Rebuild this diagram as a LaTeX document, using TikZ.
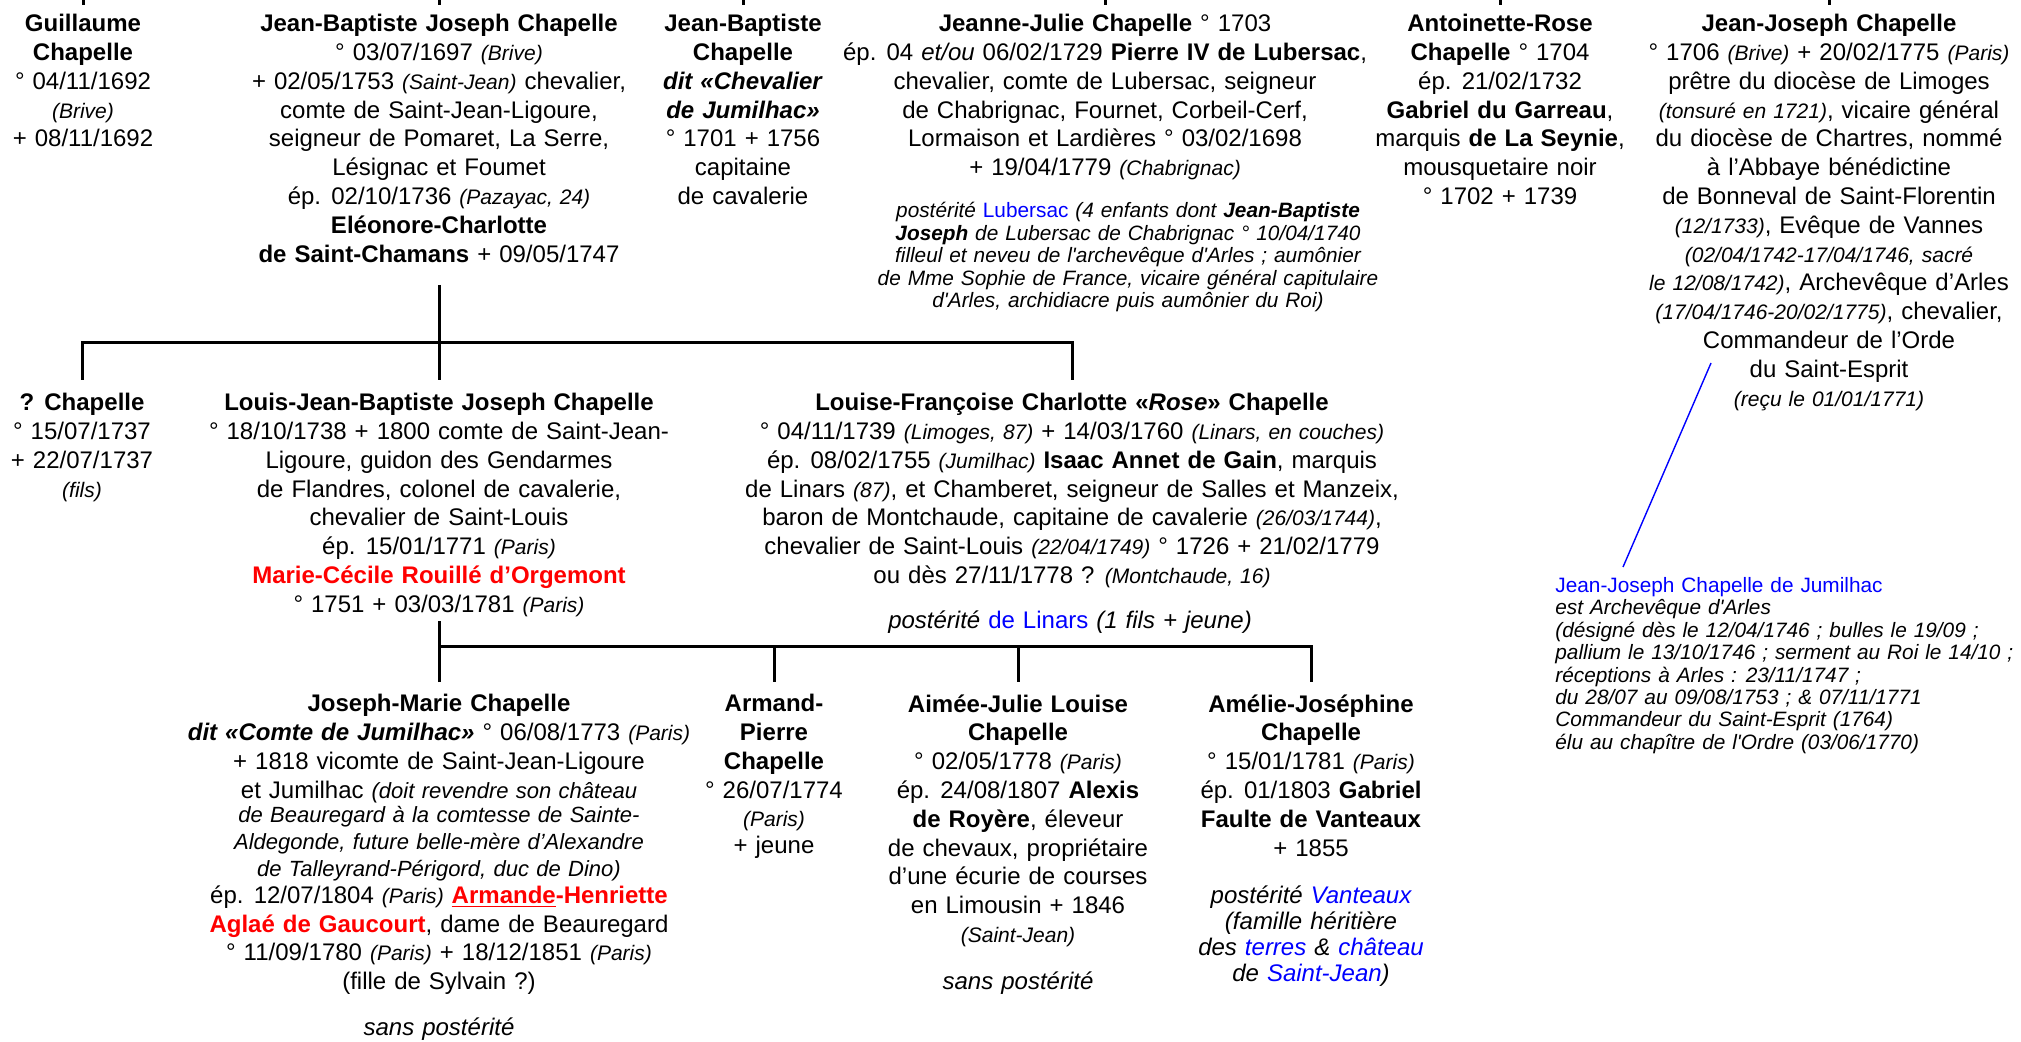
\documentclass[tikz,border=0pt]{standalone}
\usepackage{fontspec}
\setmainfont{Liberation Sans}[WordSpace=1.2]
\definecolor{nomrouge}{RGB}{255,0,0}
\definecolor{lienbleu}{RGB}{0,0,255}
\newcommand{\lieu}[1]{{\fontsize{10.5}{12}\selectfont\itshape #1}}
\newcommand{\glose}[1]{{\fontsize{11}{13}\selectfont\itshape #1}}
\newcommand{\conj}[1]{{\color{nomrouge}\bfseries #1}}
\newcommand{\lien}[1]{{\color{lienbleu}#1}}
\newcommand{\aps}{\textquotesingle}
\begin{document}
\begin{tikzpicture}[
	x=0.5pt, y=-0.5pt,
	pers/.style={anchor=north, align=center, inner sep=0pt, font=\fontsize{12}{14.4}\selectfont},
	post/.style={anchor=north, align=center, inner sep=0pt, font=\fontsize{10.4}{11.25}\selectfont\itshape},
	renv/.style={anchor=north west, align=left, inner sep=0pt, font=\fontsize{10.4}{11.2}\selectfont\itshape},
	trait/.style={line width=1.5pt},
	renvoi/.style={lienbleu, line width=0.7pt},
	]
\useasboundingbox (0,0) rectangle (2021,1042);
\coordinate (ciel) at (0,0);
\node [pers] (gc) at (83,14) {\textbf{Guillaume}\\\textbf{Chapelle}\\° 04/11/1692\\\lieu{(Brive)}\\+ 08/11/1692};
\node [pers] (jbj) at (439,14) {\textbf{Jean-Baptiste Joseph Chapelle}\\
	° 03/07/1697 \lieu{(Brive)}\\
	+ 02/05/1753 \lieu{(Saint-Jean)} chevalier,\\
	comte de Saint-Jean-Ligoure,\\
	seigneur de Pomaret, La Serre,\\
	Lésignac et Foumet\\
	ép. 02/10/1736 \lieu{(Pazayac, 24)}\\
	\textbf{Eléonore-Charlotte}\\
	\textbf{de Saint-Chamans} + 09/05/1747};
\node [pers] (jbc) at (743,14) {\textbf{Jean-Baptiste}\\\textbf{Chapelle}\\\textbf{\textit{dit «Chevalier}}\\\textbf{\textit{de Jumilhac»}}\\° 1701 + 1756\\capitaine\\de cavalerie};
\node [pers] (jjc) at (1105,14) {\textbf{Jeanne-Julie Chapelle} ° 1703\\
	ép. 04 \textit{et/ou} 06/02/1729 \textbf{Pierre IV de Lubersac},\\
	chevalier, comte de Lubersac, seigneur\\
	de Chabrignac, Fournet, Corbeil-Cerf,\\
	Lormaison et Lardières ° 03/02/1698\\
	+ 19/04/1779 \lieu{(Chabrignac)}};
\node [post] (lub) at (1128,202) {postérité \lien{\upshape Lubersac} (4 enfants dont \textbf{Jean-Baptiste}\\
	\textbf{Joseph} de Lubersac de Chabrignac ° 10/04/1740\\
	filleul et neveu de l\aps archevêque d\aps Arles ; aumônier\\
	de Mme Sophie de France, vicaire général capitulaire\\
	d\aps Arles, archidiacre puis aumônier du Roi)};
\node [pers] (arc) at (1500,14) {\textbf{Antoinette-Rose}\\\textbf{Chapelle} ° 1704\\ép. 21/02/1732\\\textbf{Gabriel du Garreau},\\marquis \textbf{de La Seynie},\\mousquetaire noir\\° 1702 + 1739};
\node [pers] (jjo) at (1829,14) {\textbf{Jean-Joseph Chapelle}\\
	° 1706 \lieu{(Brive)} + 20/02/1775 \lieu{(Paris)}\\
	prêtre du diocèse de Limoges\\
	\lieu{(tonsuré en 1721)}, vicaire général\\
	du diocèse de Chartres, nommé\\
	à l'Abbaye bénédictine\\
	de Bonneval de Saint-Florentin\\
	\lieu{(12/1733)}, Evêque de Vannes\\
	\lieu{(02/04/1742-17/04/1746, sacré}\\
	\lieu{le 12/08/1742)}, Archevêque d'Arles\\
	\lieu{(17/04/1746-20/02/1775)}, chevalier,\\
	Commandeur de l'Orde\\
	du Saint-Esprit\\
	\lieu{(reçu le 01/01/1771)}};
\node [renv] (note) at (1555,577) {{\upshape\lien{Jean-Joseph Chapelle de Jumilhac}}\\
	est Archevêque d\aps Arles\\
	(désigné dès le 12/04/1746 ; bulles le 19/09 ;\\
	pallium le 13/10/1746 ; serment au Roi le 14/10 ;\\
	réceptions à Arles : 23/11/1747 ;\\
	du 28/07 au 09/08/1753 ; \& 07/11/1771\\
	Commandeur du Saint-Esprit (1764)\\
	élu au chapître de l\aps Ordre (03/06/1770)};
\node [pers] (qc) at (82,393) {\textbf{? Chapelle}\\° 15/07/1737\\+ 22/07/1737\\\lieu{(fils)}};
\node [pers] (ljb) at (439,393) {\textbf{Louis-Jean-Baptiste Joseph Chapelle}\\
	° 18/10/1738 + 1800 comte de Saint-Jean-\\
	Ligoure, guidon des Gendarmes\\
	de Flandres, colonel de cavalerie,\\
	chevalier de Saint-Louis\\
	ép. 15/01/1771 \lieu{(Paris)}\\
	\conj{Marie-Cécile Rouillé d'Orgemont}\\
	° 1751 + 03/03/1781 \lieu{(Paris)}};
\node [pers] (lfc) at (1072,393) {\textbf{Louise-Françoise Charlotte «\textit{Rose}» Chapelle}\\
	° 04/11/1739 \lieu{(Limoges, 87)} + 14/03/1760 \lieu{(Linars, en couches)}\\
	ép. 08/02/1755 \lieu{(Jumilhac)} \textbf{Isaac Annet de Gain}, marquis\\
	de Linars \lieu{(87)}, et Chamberet, seigneur de Salles et Manzeix,\\
	baron de Montchaude, capitaine de cavalerie \lieu{(26/03/1744)},\\
	chevalier de Saint-Louis \lieu{(22/04/1749)} ° 1726 + 21/02/1779\\
	ou dès 27/11/1778 ? \lieu{(Montchaude, 16)}};
\node [pers] (lin) at (1070,610) {\textit{postérité \lien{\upshape de Linars} (1 fils + jeune)}};
\node [pers] (jmc) at (439,694) {\textbf{Joseph-Marie Chapelle}\\
	\textbf{\textit{dit «Comte de Jumilhac»}} ° 06/08/1773 \lieu{(Paris)}\\
	+ 1818 vicomte de Saint-Jean-Ligoure\\
	et Jumilhac \glose{(doit revendre son château}\\[-2pt]
	\glose{de Beauregard à la comtesse de Sainte-}\\[-1pt]
	\glose{Aldegonde, future belle-mère d'Alexandre}\\[-1pt]
	\glose{de Talleyrand-Périgord, duc de Dino)}\\[-1pt]
	ép. 12/07/1804 \lieu{(Paris)} \conj{\underline{Armande}-Henriette}\\
	\conj{Aglaé de Gaucourt}, dame de Beauregard\\
	° 11/09/1780 \lieu{(Paris)} + 18/12/1851 \lieu{(Paris)}\\
	(fille de Sylvain ?)\\[8.5pt]
	\textit{sans postérité}};
\node [pers] (apc) at (774,694) {\textbf{Armand-}\\\textbf{Pierre}\\\textbf{Chapelle}\\° 26/07/1774\\\lieu{(Paris)}\\[-1pt]+ jeune};
\node [pers] (ajc) at (1018,694) {\textbf{Aimée-Julie Louise}\\\textbf{Chapelle}\\° 02/05/1778 \lieu{(Paris)}\\
	ép. 24/08/1807 \textbf{Alexis}\\
	\textbf{de Royère}, éleveur\\
	de chevaux, propriétaire\\
	d'une écurie de courses\\
	en Limousin + 1846\\
	\lieu{(Saint-Jean)}\\[9pt]
	\textit{sans postérité}};
\node [pers] (amc) at (1311,694) {\textbf{Amélie-Joséphine}\\\textbf{Chapelle}\\° 15/01/1781 \lieu{(Paris)}\\
	ép. 01/1803 \textbf{Gabriel}\\
	\textbf{Faulte de Vanteaux}\\
	+ 1855\\[9.5pt]
	\textit{postérité \lien{Vanteaux}}\\[-1.5pt]
	\textit{(famille héritière}\\[-1.5pt]
	\textit{des \lien{terres} \& \lien{château}}\\[-1.5pt]
	\textit{de \lien{Saint-Jean})}};
\foreach \n in {gc,jbj,jbc,jjc,arc,jjo}
	\draw [trait, shorten >=4.5pt] (\n.north |- ciel) -- (\n.north);
\coordinate (b1) at (439,343);
\draw [trait, shorten <=11pt] (jbj.south) -- (b1);
\draw [trait, shorten <=6.5pt, shorten >=6.5pt] (qc.north) |- (b1) -| (lfc.north);
\draw [trait, shorten >=6.5pt] (b1) -- (ljb.north);
\coordinate (b2) at (439,646);
\draw [trait, shorten <=2pt] (ljb.south) -- (b2);
\draw [trait, shorten <=6pt, shorten >=6pt] (jmc.north) |- (b2) -| (amc.north);
\foreach \n in {apc,ajc}
	\draw [trait, shorten >=6pt] (\n.north |- b2) -- (\n.north);
\coordinate (renvoi-haut) at (1711,363);
\coordinate (renvoi-bas) at (1623,567);
\draw [renvoi] (renvoi-haut) -- (renvoi-bas);
\end{tikzpicture}
\end{document}
